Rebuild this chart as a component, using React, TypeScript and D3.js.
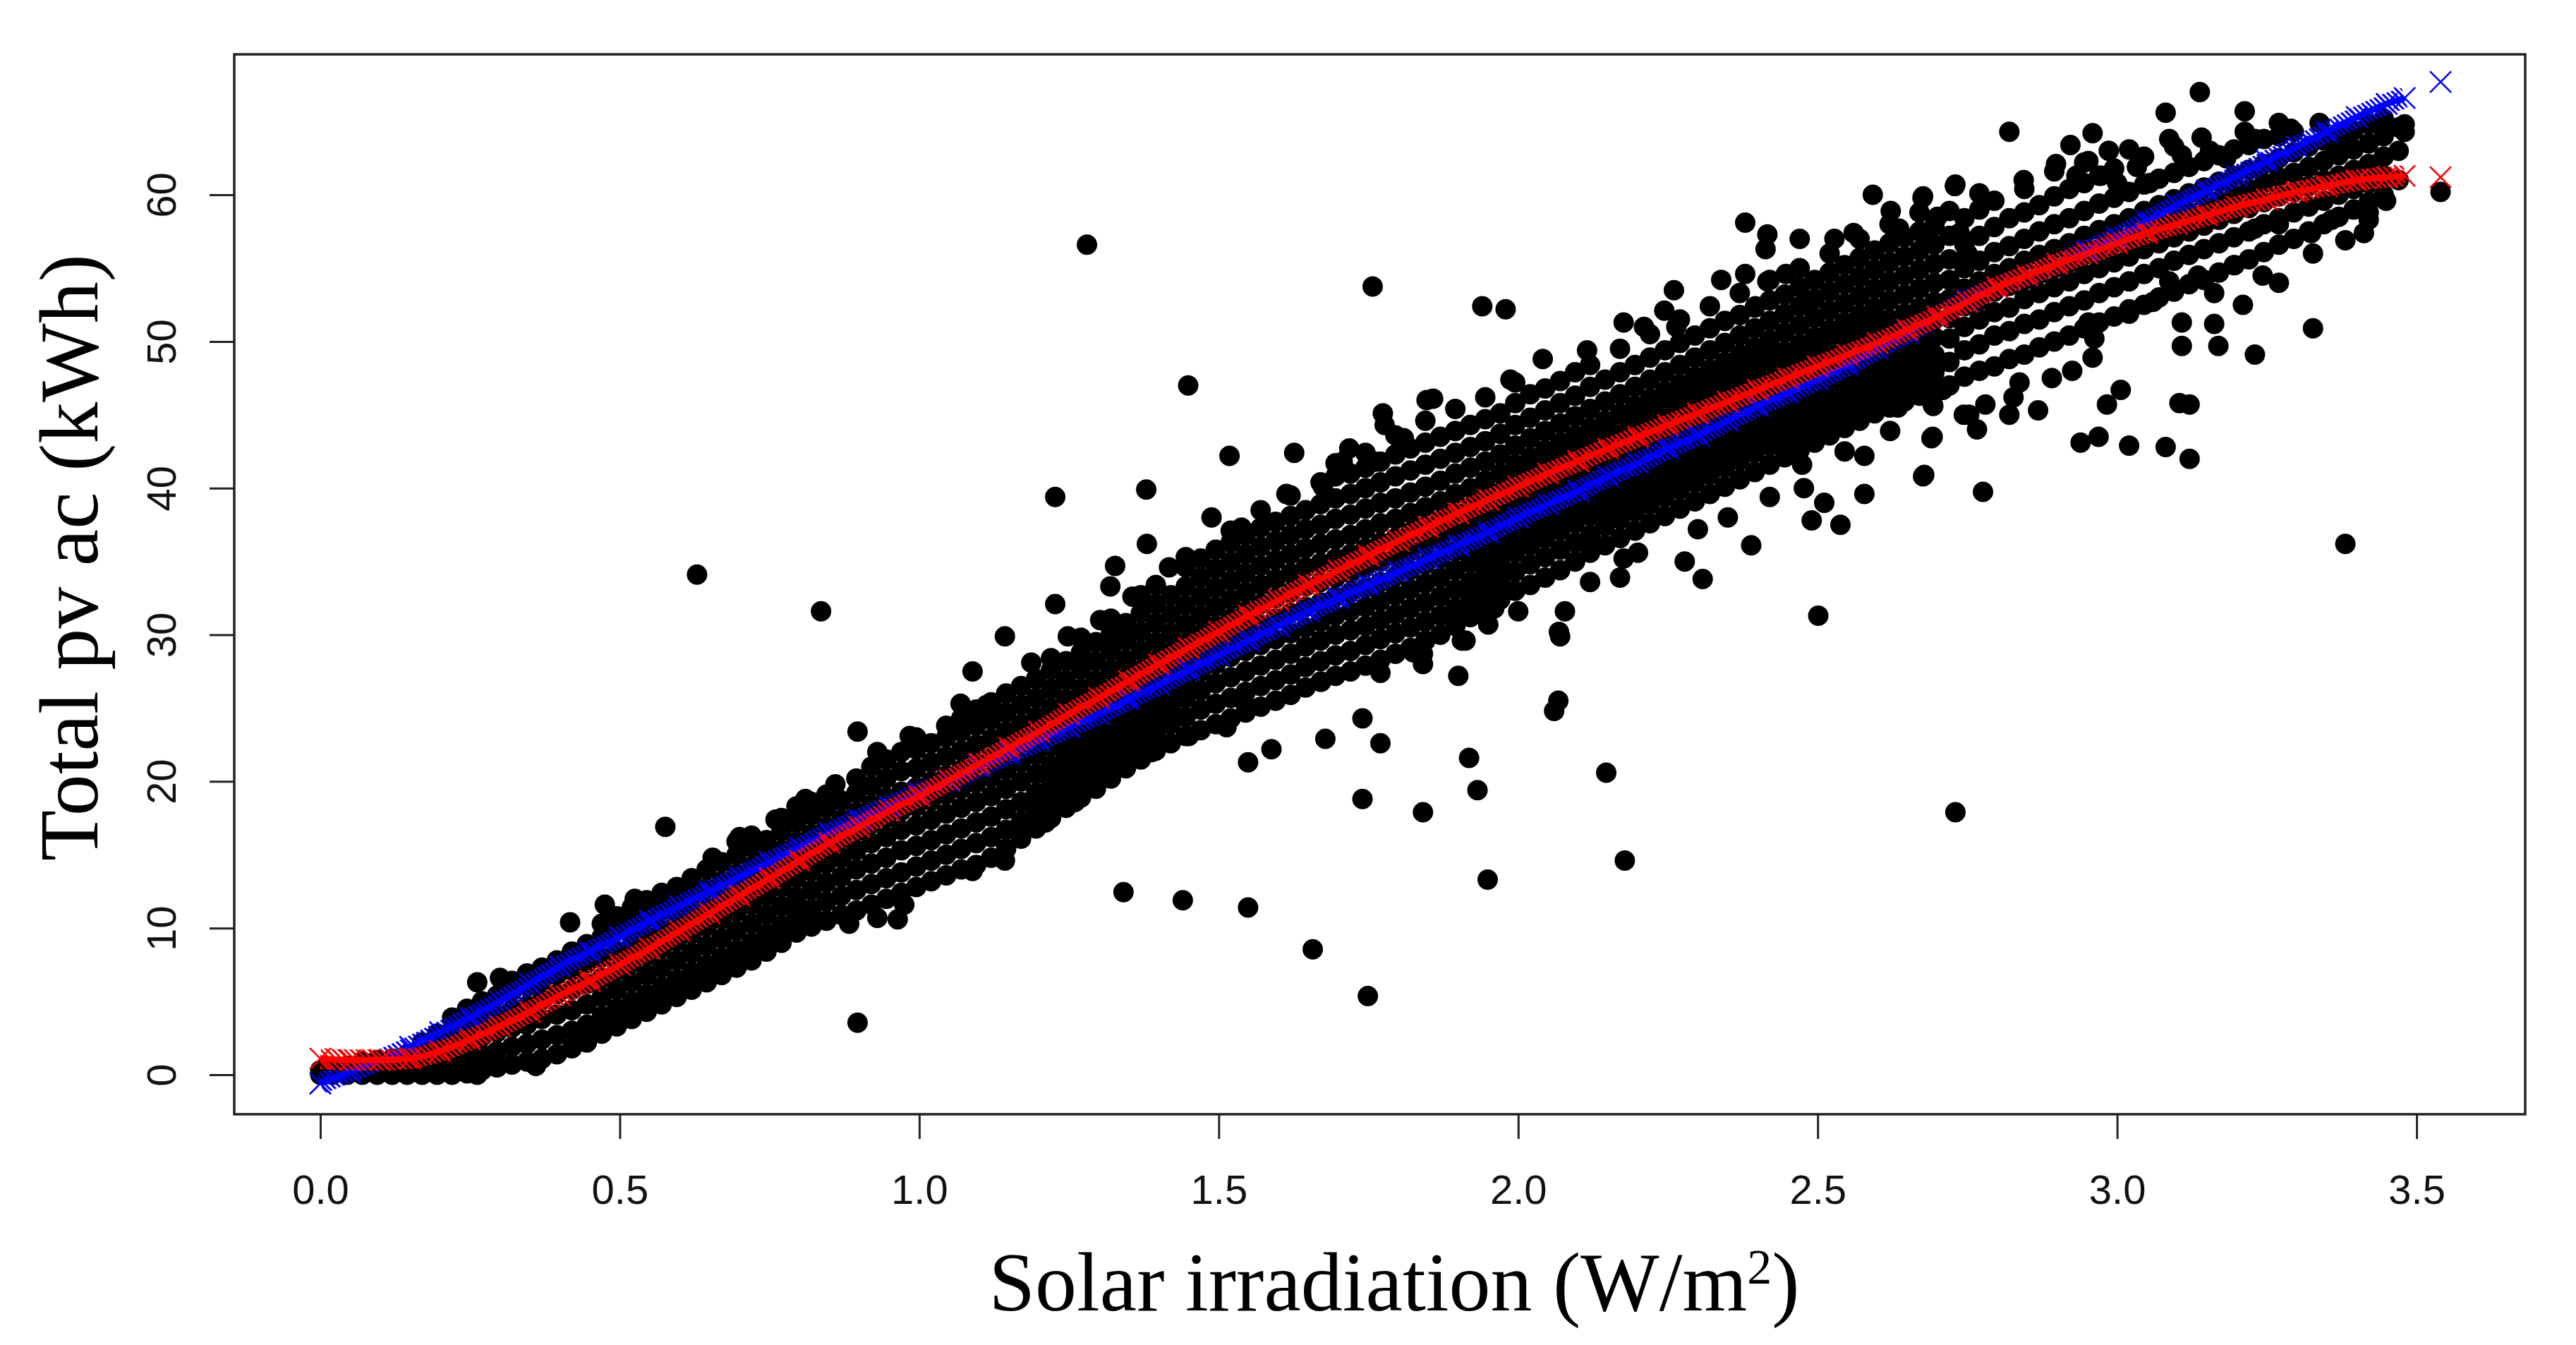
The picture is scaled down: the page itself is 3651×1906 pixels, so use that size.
import React, { useEffect, useRef } from "react";
import * as d3 from "d3";

// axis ticks
const xTicks = [0, 0.5, 1, 1.5, 2, 2.5, 3, 3.5];
const yTicks = [0, 10, 20, 30, 40, 50, 60];

// fitted values (blue / red)
const fitX = [0.0, 0.05, 0.1, 0.15, 0.2, 0.25, 0.3, 0.35, 0.4, 0.45, 0.5, 0.55, 0.6, 0.65, 0.7, 0.75, 0.8, 0.85, 0.9, 0.95,
  1.0, 1.05, 1.1, 1.15, 1.2, 1.25, 1.3, 1.35, 1.4, 1.45, 1.5, 1.55, 1.6, 1.65, 1.7, 1.75, 1.8, 1.85, 1.9, 1.95,
  2.0, 2.05, 2.1, 2.15, 2.2, 2.25, 2.3, 2.35, 2.4, 2.45, 2.5, 2.55, 2.6, 2.65, 2.7, 2.75, 2.8, 2.85, 2.9, 2.95,
  3.0, 3.05, 3.1, 3.15, 3.2, 3.25, 3.3, 3.35, 3.4, 3.45, 3.48];
const blueFit = [-0.6, 0.2, 1.0, 1.9, 2.9, 3.9, 5.0, 6.2, 7.4, 8.4, 9.4, 10.5, 11.5, 12.5, 13.5, 14.5, 15.5, 16.5, 17.4, 18.3,
  19.2, 20.0, 21.0, 21.9, 22.8, 23.7, 24.6, 25.6, 26.6, 27.6, 28.6, 29.6, 30.6, 31.6, 32.5, 33.4, 34.3, 35.2, 36.1, 37.0,
  38.0, 38.9, 39.8, 40.8, 41.7, 42.7, 43.6, 44.6, 45.6, 46.5, 47.4, 48.4, 49.5, 50.6, 51.7, 52.8, 53.7, 54.5, 55.3, 56.2,
  57.1, 58.2, 59.3, 60.3, 61.3, 62.3, 63.3, 64.3, 65.3, 66.2, 66.6];
const redFit = [1.1, 1.0, 1.0, 1.1, 1.6, 2.4, 3.3, 4.3, 5.4, 6.4, 7.5, 8.6, 9.8, 11.0, 12.2, 13.4, 14.6, 15.8, 16.9, 18.0,
  19.0, 20.1, 21.2, 22.3, 23.4, 24.6, 25.7, 26.85, 28.0, 29.1, 30.2, 31.3, 32.35, 33.4, 34.4, 35.4, 36.4, 37.35, 38.3, 39.2,
  40.1, 41.0, 41.85, 42.7, 43.5, 44.3, 45.1, 45.9, 46.7, 47.5, 48.3, 49.1, 49.9, 50.8, 51.7, 52.7, 53.7, 54.5, 55.3, 56.0,
  56.7, 57.4, 58.0, 58.6, 59.2, 59.7, 60.2, 60.6, 61.0, 61.2, 61.3];
const blueTail = [[3.54, 67.7]];
const redTail = [[3.54, 61.2]];

// observed points, one row per thin x slice: [x, y1, y2, ...]
const bandA = [
  [0.0, 0.0, 0.3], [0.02, 0.0, 0.5], [0.045, 0.0, 0.6], [0.07, 0.0, 0.4, 0.9], [0.095, 0.0, 0.5, 1.0],
  [0.12, 0.0, 0.5, 1.1], [0.145, 0.0, 0.6, 1.4], [0.17, 0.0, 0.7, 1.6, 2.2], [0.195, 0.0, 0.8, 1.8, 2.8],
  [0.22, 0.0, 1.0, 2.1, 3.1, 3.9], [0.245, 0.1, 1.1, 2.3, 3.4, 4.5], [0.27, 0.3, 1.4, 2.6, 3.8, 5.0],
  [0.295, 0.5, 1.6, 2.9, 4.1, 5.4], [0.32, 0.7, 1.9, 3.2, 4.4, 5.7, 6.4], [0.345, 0.9, 2.1, 3.4, 4.7, 6.0, 6.9],
  [0.37, 1.1, 2.4, 3.8, 5.1, 6.4, 7.3], [0.395, 1.4, 2.7, 4.1, 5.5, 6.8, 7.8], [0.42, 1.8, 3.0, 4.4, 5.8, 7.1, 8.4],
  [0.445, 2.2, 3.4, 4.8, 6.2, 7.6, 8.9], [0.47, 2.8, 4.0, 5.3, 6.6, 8.0, 9.4, 10.3], [0.495, 3.3, 4.5, 5.8, 7.1, 8.4, 9.8, 10.8],
  [0.52, 3.8, 5.0, 6.3, 7.6, 8.9, 10.2, 11.4], [0.545, 4.3, 5.5, 6.8, 8.1, 9.4, 10.7, 11.9], [0.57, 4.8, 6.0, 7.3, 8.6, 9.9, 11.2, 12.4],
  [0.595, 5.3, 6.5, 7.8, 9.1, 10.4, 11.7, 12.8], [0.62, 5.8, 7.0, 8.3, 9.6, 10.9, 12.2, 13.4], [0.645, 6.3, 7.5, 8.8, 10.1, 11.4, 12.7, 14.0],
  [0.67, 6.8, 8.0, 9.3, 10.6, 11.9, 13.2, 14.5], [0.695, 7.3, 8.5, 9.8, 11.1, 12.4, 13.7, 15.0, 15.9],
  [0.72, 7.8, 9.0, 10.3, 11.6, 12.9, 14.2, 15.5, 16.3], [0.745, 8.4, 9.6, 10.9, 12.2, 13.5, 14.8, 16.0],
  [0.77, 9.0, 10.2, 11.5, 12.8, 14.0, 15.3, 16.6, 17.5], [0.795, 9.7, 10.9, 12.1, 13.4, 14.6, 15.9, 17.2, 18.3],
  [0.82, 10.1, 11.3, 12.6, 13.9, 15.1, 16.4, 17.7, 18.6], [0.845, 10.5, 11.8, 13.1, 14.4, 15.6, 16.9, 18.2, 19.1],
  [0.87, 10.9, 12.2, 13.5, 14.8, 16.1, 17.4, 18.7], [0.895, 11.2, 12.6, 14.0, 15.3, 16.6, 17.9, 19.2, 20.2],
  [0.92, 11.6, 13.0, 14.4, 15.8, 17.1, 18.4, 19.7, 21.0], [0.945, 12.0, 13.4, 14.8, 16.2, 17.5, 18.9, 20.2, 21.5],
  [0.97, 12.4, 13.8, 15.3, 16.7, 18.0, 19.3, 20.7, 22.0],
];

const bandB = [
  [0.995, 12.8, 14.2, 15.6, 17.0, 18.3, 19.6, 20.9, 22.2, 23.0], [1.02, 13.2, 14.6, 16.0, 17.4, 18.7, 20.0, 21.3, 22.6],
  [1.045, 13.6, 15.0, 16.4, 17.8, 19.1, 20.4, 21.7, 23.0, 23.8], [1.07, 14.0, 15.4, 16.8, 18.2, 19.5, 20.8, 22.1, 23.4, 24.3],
  [1.095, 14.3, 15.8, 17.2, 18.6, 19.9, 21.2, 22.5, 23.8, 24.9], [1.12, 14.8, 16.2, 17.6, 19.0, 20.3, 21.6, 22.9, 24.2, 25.4],
  [1.145, 15.4, 16.7, 18.1, 19.5, 20.8, 22.1, 23.4, 24.7, 26.0], [1.17, 16.1, 17.3, 18.6, 20.0, 21.3, 22.6, 23.9, 25.2, 26.5],
  [1.195, 16.8, 18.0, 19.2, 20.5, 21.8, 23.1, 24.4, 25.7, 27.0], [1.22, 17.5, 18.7, 19.9, 21.1, 22.4, 23.7, 25.0, 26.3, 27.6, 28.4],
  [1.245, 18.2, 19.4, 20.6, 21.8, 23.0, 24.3, 25.6, 26.9, 28.2], [1.27, 18.9, 20.1, 21.3, 22.5, 23.7, 25.0, 26.3, 27.6, 28.8, 29.8],
  [1.295, 19.5, 20.7, 21.9, 23.1, 24.3, 25.6, 26.9, 28.2, 29.5], [1.32, 20.2, 21.4, 22.6, 23.8, 25.0, 26.3, 27.6, 28.9, 30.1, 31.1],
  [1.345, 20.9, 22.1, 23.3, 24.5, 25.7, 27.0, 28.3, 29.6, 30.8], [1.37, 21.5, 22.7, 23.9, 25.1, 26.3, 27.6, 28.9, 30.2, 31.5, 32.7],
  [1.395, 22.1, 23.3, 24.5, 25.7, 26.9, 28.2, 29.5, 30.8, 32.1, 33.4], [1.42, 22.6, 23.9, 25.1, 26.3, 27.5, 28.8, 30.1, 31.4, 32.7],
  [1.445, 23.1, 24.4, 25.7, 26.9, 28.1, 29.4, 30.7, 32.0, 33.3, 34.6, 35.3], [1.47, 23.5, 24.9, 26.2, 27.5, 28.7, 30.0, 31.3, 32.6, 33.9, 35.2],
  [1.495, 23.9, 25.3, 26.7, 28.0, 29.3, 30.6, 31.9, 33.2, 34.5, 35.8], [1.52, 24.3, 25.7, 27.1, 28.5, 29.8, 31.1, 32.4, 33.7, 35.0, 36.3, 37.1],
  [1.545, 24.7, 26.1, 27.5, 28.9, 30.3, 31.6, 32.9, 34.2, 35.5, 36.8], [1.57, 25.1, 26.5, 27.9, 29.3, 30.7, 32.1, 33.4, 34.7, 36.0, 37.3, 38.5],
  [1.595, 25.5, 26.9, 28.3, 29.7, 31.1, 32.5, 33.8, 35.1, 36.4, 37.7], [1.62, 25.9, 27.3, 28.7, 30.1, 31.5, 32.9, 34.2, 35.5, 36.8, 38.1, 39.5],
  [1.645, 26.4, 27.8, 29.2, 30.5, 31.9, 33.3, 34.6, 35.9, 37.2, 38.5], [1.67, 26.8, 28.2, 29.6, 30.9, 32.2, 33.6, 34.9, 36.2, 37.5, 38.9, 40.4],
  [1.695, 27.2, 28.6, 30.0, 31.3, 32.6, 33.9, 35.2, 36.5, 37.9, 39.3, 40.8], [1.72, 27.5, 28.9, 30.3, 31.6, 32.9, 34.2, 35.5, 36.8, 38.2, 39.6, 41.0],
  [1.745, 27.9, 29.3, 30.6, 31.9, 33.2, 34.6, 35.9, 37.2, 38.6, 40.0, 41.4, 42.4], [1.77, 28.3, 29.7, 31.0, 32.3, 33.6, 35.0, 36.3, 37.6, 39.0, 40.4, 41.8],
  [1.795, 28.7, 30.1, 31.4, 32.7, 34.0, 35.3, 36.6, 37.9, 39.3, 40.8, 42.3, 43.6], [1.82, 29.1, 30.5, 31.8, 33.1, 34.4, 35.7, 37.0, 38.3, 39.7, 41.2, 42.7],
  [1.845, 29.6, 30.9, 32.2, 33.5, 34.8, 36.1, 37.4, 38.7, 40.1, 41.6, 43.1, 44.6], [1.87, 30.0, 31.3, 32.6, 33.9, 35.2, 36.5, 37.8, 39.1, 40.5, 42.0, 43.5],
  [1.895, 30.6, 31.8, 33.1, 34.4, 35.7, 37.0, 38.3, 39.6, 41.0, 42.4, 43.9, 45.4], [1.92, 31.2, 32.4, 33.6, 34.9, 36.1, 37.4, 38.7, 40.0, 41.4, 42.8, 44.3],
  [1.945, 31.8, 33.0, 34.2, 35.4, 36.6, 37.9, 39.2, 40.5, 41.8, 43.2, 44.7, 46.2], [1.97, 32.4, 33.6, 34.8, 36.0, 37.2, 38.4, 39.7, 41.0, 42.3, 43.7, 45.1],
];

const bandC = [
  [1.995, 33.0, 34.3, 35.6, 36.8, 38.0, 39.2, 40.4, 41.6, 42.9, 44.3, 45.8, 47.2], [2.02, 33.4, 34.8, 36.1, 37.3, 38.5, 39.7, 40.9, 42.1, 43.4, 44.8, 46.4],
  [2.045, 33.9, 35.3, 36.6, 37.8, 39.0, 40.2, 41.4, 42.6, 43.9, 45.3, 46.8], [2.07, 34.4, 35.8, 37.1, 38.3, 39.5, 40.7, 41.9, 43.1, 44.4, 45.8, 47.3],
  [2.095, 35.0, 36.3, 37.6, 38.8, 40.0, 41.2, 42.4, 43.6, 44.9, 46.3, 47.9], [2.12, 35.6, 36.8, 38.1, 39.3, 40.5, 41.7, 42.9, 44.1, 45.4, 46.9, 48.4],
  [2.145, 36.1, 37.4, 38.6, 39.8, 41.0, 42.2, 43.4, 44.6, 45.9, 47.4], [2.17, 36.6, 37.9, 39.1, 40.3, 41.5, 42.7, 43.9, 45.1, 46.4, 47.9, 49.5],
  [2.195, 37.1, 38.4, 39.6, 40.8, 42.0, 43.2, 44.4, 45.6, 46.9, 48.4], [2.22, 37.6, 38.9, 40.1, 41.3, 42.5, 43.7, 44.9, 46.1, 47.4, 48.9, 50.5],
  [2.245, 38.1, 39.4, 40.6, 41.8, 43.0, 44.2, 45.4, 46.6, 47.9, 49.4], [2.27, 38.6, 39.9, 41.1, 42.3, 43.5, 44.7, 45.9, 47.1, 48.4, 49.9, 51.5],
  [2.295, 39.1, 40.4, 41.6, 42.8, 44.0, 45.2, 46.4, 47.6, 48.9, 50.4], [2.32, 39.6, 40.9, 42.1, 43.3, 44.5, 45.7, 46.9, 48.1, 49.4, 50.9, 52.4],
  [2.345, 40.1, 41.4, 42.6, 43.8, 45.0, 46.2, 47.4, 48.6, 49.9, 51.4], [2.37, 40.6, 41.9, 43.1, 44.3, 45.5, 46.7, 47.9, 49.1, 50.4, 51.8, 53.3],
  [2.395, 41.1, 42.4, 43.6, 44.8, 46.0, 47.2, 48.4, 49.6, 50.9, 52.3], [2.42, 41.6, 42.9, 44.1, 45.3, 46.5, 47.7, 48.9, 50.1, 51.4, 52.8, 54.2],
  [2.445, 42.1, 43.3, 44.5, 45.7, 46.9, 48.1, 49.3, 50.6, 51.9, 53.2], [2.47, 42.6, 43.8, 45.0, 46.2, 47.4, 48.6, 49.8, 51.1, 52.4, 53.7, 55.0],
  [2.495, 43.1, 44.3, 45.5, 46.7, 47.9, 49.1, 50.3, 51.6, 52.9, 54.2], [2.52, 43.6, 44.8, 46.0, 47.2, 48.4, 49.6, 50.8, 52.1, 53.4, 54.7, 56.0],
  [2.545, 44.1, 45.3, 46.5, 47.7, 48.9, 50.1, 51.3, 52.6, 53.9, 55.2], [2.57, 44.6, 45.8, 47.0, 48.2, 49.4, 50.6, 51.8, 53.1, 54.4, 55.7, 57.0],
  [2.595, 45.1, 46.3, 47.5, 48.7, 49.9, 51.1, 52.3, 53.6, 54.9, 56.2], [2.62, 45.5, 46.7, 47.9, 49.1, 50.3, 51.5, 52.8, 54.1, 55.4, 56.7, 58.0],
  [2.645, 45.9, 47.1, 48.3, 49.5, 50.7, 51.9, 53.2, 54.5, 55.8, 57.1], [2.67, 46.3, 47.5, 48.7, 49.9, 51.1, 52.3, 53.6, 54.9, 56.2, 57.5, 58.8],
  [2.695, 46.7, 47.9, 49.1, 50.3, 51.5, 52.7, 54.0, 55.3, 56.6, 57.9],
];

const bandD = [
  [2.72, 47.0, 48.6, 50.2, 51.6, 52.9, 54.2, 55.6, 57.2, 58.9], [2.745, 47.6, 49.4, 51.0, 52.4, 53.6, 55.0, 56.6, 58.4],
  [2.77, 48.0, 49.8, 51.5, 52.8, 54.1, 55.5, 57.2, 59.0], [2.795, 48.3, 50.4, 52.0, 53.4, 54.6, 56.1, 57.8, 59.6],
  [2.82, 48.8, 50.7, 52.3, 53.8, 55.0, 56.5, 58.4], [2.845, 49.1, 51.2, 52.9, 54.2, 55.5, 57.0, 58.8, 60.4],
  [2.87, 49.6, 51.5, 53.3, 54.6, 55.9, 57.5, 59.3], [2.895, 50.0, 52.0, 53.7, 55.0, 56.3, 58.0, 59.9, 61.6],
  [2.92, 50.4, 52.4, 54.1, 55.4, 56.7, 58.4, 60.4], [2.945, 50.9, 52.8, 54.6, 55.9, 57.2, 58.9, 60.8, 62.2],
  [2.97, 51.3, 53.3, 55.0, 56.3, 57.6, 59.4, 61.3], [2.995, 51.7, 53.7, 55.4, 56.7, 58.0, 59.8, 61.8],
  [3.02, 52.2, 54.1, 55.8, 57.1, 58.4, 60.2], [3.045, 52.5, 54.6, 56.3, 57.6, 58.9, 60.7, 62.6],
  [3.07, 53.0, 55.0, 56.7, 58.0, 59.3, 61.1], [3.095, 53.4, 55.5, 57.1, 58.4, 59.7, 61.5, 63.3],
  [3.12, 53.9, 55.9, 57.5, 58.8, 60.1, 61.9], [3.145, 54.2, 56.3, 57.9, 59.2, 60.5, 62.3],
  [3.17, 54.7, 56.7, 58.3, 59.6, 60.9, 62.7], [3.195, 55.2, 57.1, 58.7, 60.0, 61.3, 63.1],
  [3.22, 55.6, 57.5, 59.1, 60.4, 61.7, 63.4], [3.245, 56.1, 58.0, 59.5, 60.8, 62.1, 63.8],
  [3.27, 56.6, 58.4, 59.9, 61.2, 62.5, 64.0], [3.295, 57.0, 58.8, 60.2, 61.5, 62.9, 64.3],
  [3.32, 57.5, 59.2, 60.6, 61.9, 63.3], [3.345, 58.0, 59.6, 61.0, 62.3, 63.7], [3.37, 58.5, 60.0, 61.3, 62.7, 64.1],
  [3.395, 59.0, 60.4, 61.7, 63.1, 64.4], [3.42, 59.5, 60.8, 62.1, 63.5, 64.8], [3.445, 60.0, 61.3, 62.6, 64.0, 65.2],
  [3.47, 61.0, 63.0, 64.6],
];

// scattered points around the edges of the cloud
const edgeLow = [
  [0.262, 0.0], [0.36, 0.6], [0.883, 10.3], [0.93, 10.7], [0.964, 10.6], [0.975, 11.6],
  [1.089, 13.9], [1.143, 14.6], [1.167, 16.5], [1.211, 17.2], [1.26, 18.6], [1.288, 20.1], [1.335, 21.0], [1.388, 22.0],
  [1.45, 23.1], [1.513, 23.7], [1.545, 25.2], [1.549, 21.3], [1.588, 22.2], [1.678, 22.9], [1.671, 26.8], [1.74, 24.3],
  [1.77, 22.6], [1.74, 18.8], [1.841, 17.9], [1.932, 19.4], [1.918, 21.6], [1.77, 27.4], [1.9, 27.2], [1.841, 28.7],
  [1.841, 28.0], [1.912, 29.6], [2.07, 29.9], [2.068, 30.2], [2.078, 31.6], [2.067, 25.5], [2.06, 24.8], [1.906, 29.6],
  [1.95, 30.7], [1.96, 31.8], [1.899, 31.0], [1.825, 28.8], [2.17, 33.9], [2.176, 35.2], [2.278, 35.0], [2.308, 33.8],
  [2.389, 36.1], [2.49, 37.8], [2.538, 37.5], [2.511, 39.0], [2.578, 39.6], [2.477, 40.0], [2.676, 40.8], [2.678, 40.9],
  [2.69, 43.4], [2.578, 42.2], [2.545, 42.5], [2.474, 41.6], [2.744, 45.0], [2.693, 45.6], [2.71, 46.8], [2.3, 37.2],
  [2.35, 38.0], [2.42, 39.4], [2.2, 35.6], [2.12, 33.6], [2.0, 31.6], [1.98, 33.0],
  [2.692, 43.5], [2.766, 44.0], [2.753, 45.0], [2.78, 45.7], [2.82, 45.0], [2.868, 45.3], [2.709, 46.7], [2.692, 45.7],
  [2.891, 47.5], [2.925, 48.0], [2.827, 46.2], [2.837, 47.2], [2.959, 48.9], [2.962, 50.2], [2.952, 51.3], [2.648, 47.5],
  [2.634, 45.5], [2.621, 43.9], [2.939, 43.1], [2.969, 43.5], [3.006, 46.7], [2.983, 45.7], [3.02, 42.9], [3.081, 42.8],
  [3.121, 42.0], [3.121, 45.7], [3.104, 45.8], [3.108, 49.7], [3.108, 51.3], [3.169, 49.7], [3.162, 51.2], [3.23, 49.1],
  [3.21, 52.5], [3.27, 54.0], [3.243, 54.5], [3.196, 55.2], [3.162, 53.3], [3.135, 54.5], [3.02, 51.9], [3.06, 52.7],
  [3.087, 54.1], [3.327, 56.0], [3.381, 56.9], [3.412, 57.4],
];

const edgeHigh = [
  [0.262, 6.3], [0.3, 6.6], [0.417, 10.4], [0.475, 11.6], [0.525, 12.0], [0.655, 14.8], [0.7, 16.2], [0.76, 17.4],
  [0.81, 18.8], [0.86, 19.8], [0.93, 22.0], [0.984, 23.1], [0.897, 23.4],
  [1.069, 25.3], [1.089, 27.5], [1.112, 25.2], [1.143, 29.9], [1.187, 28.1], [1.227, 32.1], [1.248, 29.9], [1.302, 31.0],
  [1.319, 33.3], [1.327, 34.7], [1.356, 32.6], [1.38, 36.2], [1.417, 34.6], [1.488, 38.0], [1.538, 37.3], [1.613, 39.6],
  [1.674, 40.1], [1.707, 41.8], [1.761, 41.8], [1.809, 43.4], [1.518, 42.2], [1.626, 42.4], [1.695, 41.7], [1.718, 42.7],
  [1.774, 45.1], [1.777, 44.3], [1.847, 46.0], [1.858, 46.1], [1.987, 47.4], [2.041, 48.8], [2.115, 49.4], [2.176, 51.3],
  [2.21, 51.0], [2.244, 52.1], [2.264, 51.0], [2.26, 53.5], [2.339, 54.2], [2.379, 54.6], [2.416, 57.3], [2.413, 56.3],
  [2.447, 54.6], [2.416, 54.1], [2.396, 52.4], [2.47, 57.0], [2.48, 52.7], [2.528, 57.0], [2.56, 57.4], [2.592, 60.0],
  [2.622, 58.9], [2.636, 57.7], [2.676, 59.9], [2.73, 60.7], [2.7, 58.5], [2.683, 57.1], [2.737, 57.4], [2.75, 56.0],
  [2.675, 59.8], [2.729, 60.6], [2.77, 60.1], [2.844, 61.0], [2.898, 62.1], [2.932, 61.3], [2.952, 62.3], [2.986, 63.0],
  [3.02, 63.1], [2.973, 61.3], [3.0, 60.8], [3.033, 61.9], [3.054, 60.8], [2.922, 63.4], [2.959, 64.2], [3.081, 65.6],
  [3.213, 65.7], [3.087, 63.8], [3.108, 62.7], [3.141, 63.9], [3.155, 63.0], [3.182, 62.5], [3.213, 64.3], [3.23, 63.8],
  [3.27, 64.9], [3.29, 64.5], [3.338, 64.9], [3.365, 63.0], [3.385, 63.6], [3.48, 64.8], [3.48, 64.3], [3.449, 59.6],
  [3.42, 58.8], [3.42, 58.3], [3.358, 58.3], [3.324, 57.4], [3.27, 58.0], [3.23, 57.7],
];

// isolated points far from the cloud
const farPoints = [
  [0.629, 34.1], [0.836, 31.6], [0.576, 16.9], [0.897, 3.55], [1.227, 39.4], [1.379, 39.9], [1.449, 47.0], [1.28, 56.6],
  [1.757, 53.75], [1.94, 52.4], [1.979, 52.2], [2.379, 58.1], [1.341, 12.45], [1.44, 11.9], [1.549, 11.4], [1.657, 8.55],
  [1.749, 5.36], [1.949, 13.3], [2.178, 14.6], [2.147, 20.6], [2.73, 17.9], [2.501, 31.3], [3.381, 36.2], [3.138, 67.0],
  [2.82, 64.3], [3.54, 60.2], [3.327, 50.9], [2.776, 39.75],
];

const App: React.FC = () => {
  const ref = useRef<SVGSVGElement>(null);

  useEffect(() => {
    const svg = d3.select(ref.current);
    svg.selectAll("*").remove();

    const x = d3.scaleLinear().domain([-0.1437, 3.6813]).range([332, 3579]);
    const y = d3.scaleLinear().domain([-2.694, 69.58]).range([1579, 77]);

    const defs = svg.append("defs");
    const hatch = (id: string, color: string) => {
      defs.append("pattern")
        .attr("id", id)
        .attr("patternUnits", "userSpaceOnUse")
        .attr("width", 6)
        .attr("height", 6)
        .attr("patternTransform", "rotate(-45)")
        .append("rect")
        .attr("width", 3)
        .attr("height", 6)
        .attr("fill", color);
    };
    hatch("hatch-blue", "#0000ff");
    hatch("hatch-red", "#ff0000");

    // black observations
    const pts: number[][] = [];
    [...bandA, ...bandB, ...bandC, ...bandD].forEach((c) => c.slice(1).forEach((v) => pts.push([c[0], v])));
    [...edgeLow, ...edgeHigh, ...farPoints].forEach((p) => pts.push(p));

    svg.append("g")
      .selectAll("circle")
      .data(pts)
      .join("circle")
      .attr("cx", (d) => x(d[0]))
      .attr("cy", (d) => y(d[1]))
      .attr("r", 14.5)
      .attr("fill", "#000");

    // fitted values as dense "x" markers
    const line = d3.line<number>()
      .x((_, i) => x(fitX[i]))
      .y((d) => y(d))
      .curve(d3.curveMonotoneX);
    const cross = "M-15,-15L15,15M-15,15L15,-15";

    const drawFit = (vals: number[], tail: number[][], color: string, hatchId: string) => {
      const g = svg.append("g");
      g.append("path")
        .attr("d", line(vals))
        .attr("fill", "none")
        .attr("stroke", `url(#${hatchId})`)
        .attr("stroke-width", 30);
      g.append("path")
        .attr("d", line(vals))
        .attr("fill", "none")
        .attr("stroke", color)
        .attr("stroke-width", 9);
      g.selectAll("path.mk")
        .data(vals.map((v, i) => [fitX[i], v]).concat(tail))
        .join("path")
        .attr("class", "mk")
        .attr("transform", (d) => `translate(${x(d[0])},${y(d[1])})`)
        .attr("d", cross)
        .attr("fill", "none")
        .attr("stroke", color)
        .attr("stroke-width", 2.6);
    };
    drawFit(blueFit, blueTail, "#0000ff", "hatch-blue");
    drawFit(redFit, redTail, "#ff0000", "hatch-red");

    // frame
    svg.append("rect")
      .attr("x", 332)
      .attr("y", 77)
      .attr("width", 3579 - 332)
      .attr("height", 1579 - 77)
      .attr("fill", "none")
      .attr("stroke", "#222")
      .attr("stroke-width", 3.5);

    // axes
    const gx = svg.append("g")
      .attr("transform", "translate(0,1579)")
      .call(d3.axisBottom(x).tickValues(xTicks).tickFormat(d3.format(".1f")).tickSize(35).tickSizeOuter(0).tickPadding(51));
    gx.select(".domain").remove();
    gx.selectAll("line").attr("stroke", "#222").attr("stroke-width", 3);
    gx.selectAll("text")
      .attr("font-size", 58)
      .attr("font-family", "'Liberation Sans', Arial, sans-serif")
      .attr("fill", "#111");

    const gy = svg.append("g")
      .attr("transform", "translate(332,0)")
      .call(d3.axisLeft(y).tickValues(yTicks).tickFormat(d3.format("d")).tickSize(35).tickSizeOuter(0));
    gy.select(".domain").remove();
    gy.selectAll("line").attr("stroke", "#222").attr("stroke-width", 3);
    gy.selectAll("text")
      .attr("font-size", 58)
      .attr("font-family", "'Liberation Sans', Arial, sans-serif")
      .attr("fill", "#111")
      .attr("text-anchor", "middle")
      .attr("transform", "rotate(-90)")
      .attr("x", 0)
      .attr("y", -83)
      .attr("dy", 0);

    // axis titles
    svg.append("text")
      .attr("transform", "translate(138,790) rotate(-90)")
      .attr("text-anchor", "middle")
      .attr("font-family", "'Liberation Serif', 'Times New Roman', serif")
      .attr("font-size", 118)
      .attr("fill", "#000")
      .text("Total pv ac (kWh)");

    const xl = svg.append("text")
      .attr("x", 1976)
      .attr("y", 1857)
      .attr("text-anchor", "middle")
      .attr("font-family", "'Liberation Serif', 'Times New Roman', serif")
      .attr("font-size", 118)
      .attr("fill", "#000");
    xl.append("tspan").text("Solar irradiation (W/m");
    xl.append("tspan").attr("dy", -38).attr("font-size", 70).text("2");
    xl.append("tspan").attr("dy", 38).text(")");
  }, []);

  return (
    <svg
      ref={ref}
      width={3651}
      height={1906}
      style={{ position: "absolute", left: 0, top: 0, background: "#fff" }}
    />
  );
};

export default App;
